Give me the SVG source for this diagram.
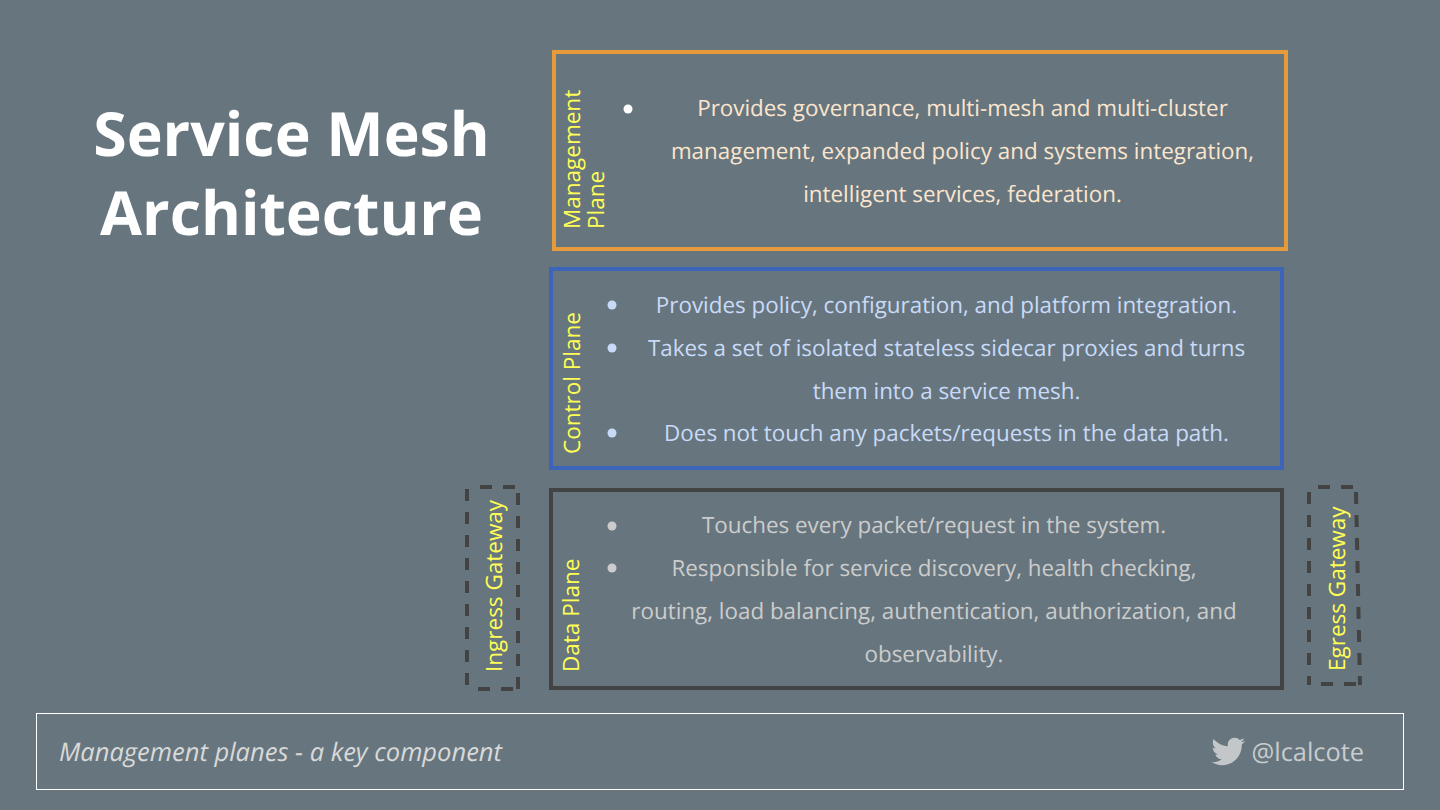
<svg xmlns="http://www.w3.org/2000/svg" width="1440" height="810" viewBox="0 0 1440 810">
<style>
text{font-family:"Open Sans","Noto Sans",sans-serif;text-rendering:geometricPrecision}
.box{fill:none;stroke-width:4}
.gw{fill:none;stroke:#434343;stroke-width:4;stroke-dasharray:12 11}
.lab{fill:#ffff55;font-size:22.5px}
.body{font-size:22.4px;text-anchor:middle}
.mg{fill:#fce5cd}.ct{fill:#c9daf8}.dt{fill:#cccccc}
</style>
<rect width="1440" height="810" fill="#67767e"/>
<g id="title" fill="#fff" font-size="60.800" font-weight="700" text-anchor="middle">
<text x="291.500" y="156">Service Mesh</text>
<text x="291.500" y="235">Architecture</text>
</g>
<g id="management-plane">
<rect class="box" x="554" y="52" width="732" height="197" stroke="#e69a3a"/>
<text class="lab" transform="translate(580,229) rotate(-90)">Management</text>
<text class="lab" transform="translate(604,229) rotate(-90)">Plane</text>
<circle cx="628" cy="109" r="4.500" fill="#fff"/>
<text class="body mg" x="962.500" y="116">Provides governance, multi-mesh and multi-cluster</text>
<text class="body mg" x="962.500" y="159">management, expanded policy and systems integration,</text>
<text class="body mg" x="962.500" y="201.500">intelligent services, federation.</text>
</g>
<g id="control-plane">
<rect class="box" x="551" y="269" width="731" height="199" stroke="#3c64b8"/>
<text class="lab" transform="translate(580,454) rotate(-90)">Control Plane</text>
<g class="ct"><circle cx="612" cy="305" r="4.500"/><circle cx="612" cy="348" r="4.500"/><circle cx="612" cy="433" r="4.500"/></g>
<text class="body ct" x="946.500" y="313">Provides policy, configuration, and platform integration.</text>
<text class="body ct" x="946.500" y="356">Takes a set of isolated stateless sidecar proxies and turns</text>
<text class="body ct" x="946.500" y="398.500">them into a service mesh.</text>
<text class="body ct" x="946.500" y="441">Does not touch any packets/requests in the data path.</text>
</g>
<g id="data-plane">
<rect class="box" x="551" y="490" width="731" height="198" stroke="#434343"/>
<text class="lab" transform="translate(579,672) rotate(-90)">Data Plane</text>
<g class="dt"><circle cx="612" cy="526" r="4.500"/><circle cx="612" cy="568" r="4.500"/></g>
<text class="body dt" x="934" y="533">Touches every packet/request in the system.</text>
<text class="body dt" x="934" y="576">Responsible for service discovery, health checking,</text>
<text class="body dt" x="934" y="618.500">routing, load balancing, authentication, authorization, and</text>
<text class="body dt" x="934" y="661.500">observability.</text>
</g>
<g id="ingress-gateway">
<path class="gw" d="M467 489V689M518 689V489"/>
<path class="gw" d="M480 487H518M478 689H518"/>
<text class="lab" transform="translate(502,672) rotate(-90)">Ingress Gateway</text>
</g>
<g id="egress-gateway">
<path class="gw" d="M1309 492V685M1356 492L1360 685"/>
<path class="gw" d="M1318 487H1356M1321 684H1360"/>
<text class="lab" transform="translate(1345,671) rotate(-90)">Egress Gateway</text>
</g>
<g id="footer">
<rect x="36.500" y="713.500" width="1367" height="76" fill="none" stroke="#fff" stroke-width="1"/>
<text x="59" y="760.500" fill="#d9d9d9" font-size="25.500" font-style="italic">Management planes - a key component</text>
<path id="bird" fill="#c3c7c9" d="M1245 741c-1.300.6-2.500 1-4 1.100 1.400-.9 2.500-2.200 3-3.800-1.300.8-2.800 1.300-4.400 1.700-1.300-1.400-3-2.200-5-2.200-3.800 0-6.900 3.100-6.900 6.900 0 .5.100 1 .2 1.600-5.700-.3-10.800-3-14.200-7.200-.6 1-.9 2.200-.9 3.500 0 2.400 1.200 4.500 3.100 5.700-1.100 0-2.200-.3-3.100-.9v.1c0 3.300 2.400 6.100 5.500 6.800-.6.200-1.200.2-1.800.2-.4 0-.9 0-1.300-.1.900 2.700 3.400 4.700 6.500 4.800-2.400 1.900-5.400 3-8.600 3-.6 0-1.100 0-1.600-.1 3.100 2 6.700 3.100 10.600 3.100 12.700 0 19.700-10.500 19.700-19.700v-.9c1.300-1 2.500-2.200 3.500-3.500z"/>
<text x="1251.500" y="760.500" fill="#c9cccd" font-size="25.400">@lcalcote</text>
</g>
</svg>
